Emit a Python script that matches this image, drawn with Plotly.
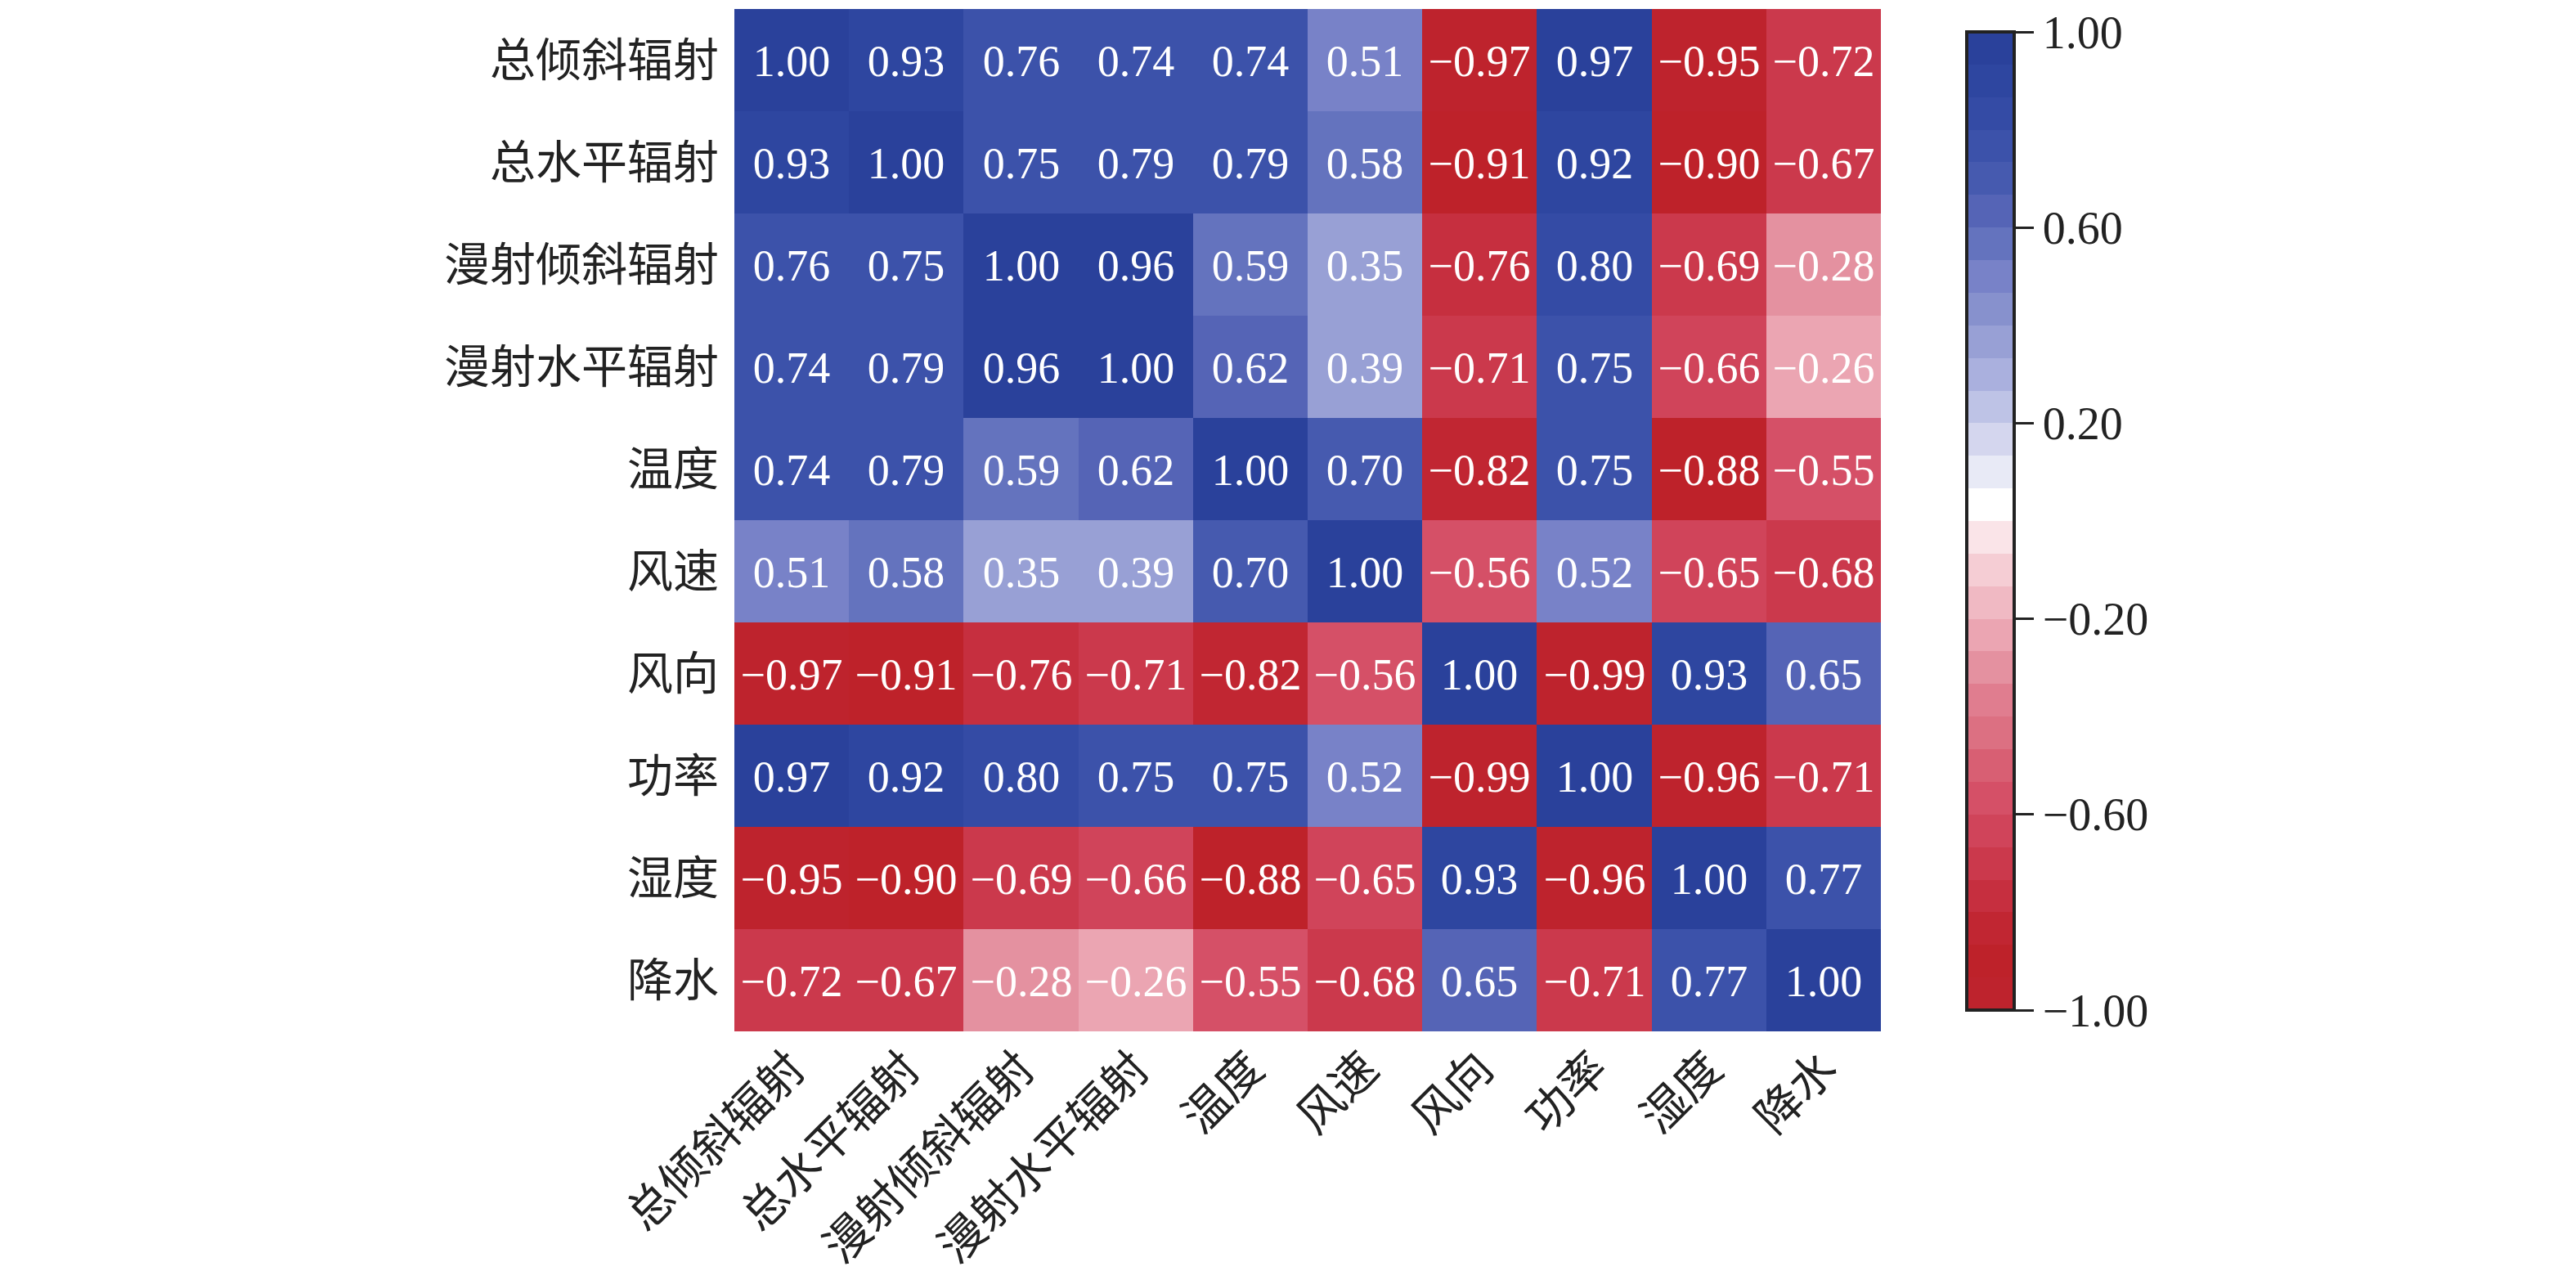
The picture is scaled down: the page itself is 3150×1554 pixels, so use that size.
import plotly.graph_objects as go

# Dados da matriz de correlação
variaveis = ['总倾斜辐射', '总水平辐射', '漫射倾斜辐射', '漫射水平辐射', '温度',
             '风速', '风向', '功率', '湿度', '降水']

corr = [
    [1.00, 0.93, 0.76, 0.74, 0.74, 0.51, -0.97, 0.97, -0.95, -0.72],
    [0.93, 1.00, 0.75, 0.79, 0.79, 0.58, -0.91, 0.92, -0.90, -0.67],
    [0.76, 0.75, 1.00, 0.96, 0.59, 0.35, -0.76, 0.80, -0.69, -0.28],
    [0.74, 0.79, 0.96, 1.00, 0.62, 0.39, -0.71, 0.75, -0.66, -0.26],
    [0.74, 0.79, 0.59, 0.62, 1.00, 0.70, -0.82, 0.75, -0.88, -0.55],
    [0.51, 0.58, 0.35, 0.39, 0.70, 1.00, -0.56, 0.52, -0.65, -0.68],
    [-0.97, -0.91, -0.76, -0.71, -0.82, -0.56, 1.00, -0.99, 0.93, 0.65],
    [0.97, 0.92, 0.80, 0.75, 0.75, 0.52, -0.99, 1.00, -0.96, -0.71],
    [-0.95, -0.90, -0.69, -0.66, -0.88, -0.65, 0.93, -0.96, 1.00, 0.77],
    [-0.72, -0.67, -0.28, -0.26, -0.55, -0.68, 0.65, -0.71, 0.77, 1.00],
]

cbar_ticks = [1.0, 0.6, 0.2, -0.2, -0.6, -1.0]

# 30 faixas de cor, de -1 até 1
cores = [
    (190, 35, 45), (190, 34, 42), (193, 38, 50), (198, 47, 63), (203, 57, 76),
    (208, 68, 90), (213, 80, 103), (216, 95, 115), (220, 112, 130), (224, 125, 143),
    (228, 145, 160), (235, 165, 178), (240, 185, 195), (245, 205, 212), (250, 228, 232),
    (255, 255, 255), (232, 234, 246), (212, 214, 238), (190, 195, 230), (170, 176, 222),
    (152, 160, 213), (135, 145, 205), (120, 130, 200), (100, 115, 190), (85, 100, 182),
    (70, 90, 175), (60, 82, 170), (52, 75, 165), (46, 70, 160), (42, 65, 155),
]
n = len(cores)
escala = []
for i, c in enumerate(cores):
    cor = 'rgb(%d,%d,%d)' % c
    escala.append([i / n, cor])
    escala.append([(i + 1) / n, cor])


def fmt(v):
    return ('%.2f' % v).replace('-', '\u2212')


texto = [[fmt(v) for v in linha] for linha in corr]

fonte = 'Times New Roman, Liberation Serif, Noto Sans CJK SC'

fig = go.Figure(
    data=go.Heatmap(
        z=corr,
        x=variaveis,
        y=variaveis,
        text=texto,
        texttemplate='%{text}',
        textfont=dict(family='Liberation Serif', size=54, color='white'),
        colorscale=escala,
        zmin=-1,
        zmax=1,
        colorbar=dict(
            x=1.0749,
            xanchor='left',
            xpad=0,
            y=0.4992,
            yanchor='middle',
            ypad=10,
            len=0.9728,
            lenmode='fraction',
            thickness=58,
            thicknessmode='pixels',
            outlinecolor='#222222',
            outlinewidth=4,
            ticks='outside',
            ticklen=22,
            tickwidth=3,
            tickcolor='#222222',
            tickvals=cbar_ticks,
            ticktext=[fmt(v) for v in cbar_ticks],
            ticklabeloverflow='allow',
            tickfont=dict(family='Liberation Serif', size=56, color='#222222'),
        ),
    )
)

fig.update_layout(
    width=3150,
    height=1554,
    margin=dict(l=890, r=858, t=3, b=301, autoexpand=False),
    plot_bgcolor='white',
    paper_bgcolor='white',
    font=dict(family=fonte, color='#222222'),
    xaxis=dict(
        tickangle=-45,
        tickfont=dict(family=fonte, size=56, color='#222222'),
        showgrid=False,
        zeroline=False,
        ticks='',
        ticklabelstandoff=0,
    ),
    yaxis=dict(
        autorange='reversed',
        tickfont=dict(family=fonte, size=56, color='#222222'),
        showgrid=False,
        zeroline=False,
        ticks='',
        ticklabelstandoff=18,
    ),
)

fig.write_html('out.html')
